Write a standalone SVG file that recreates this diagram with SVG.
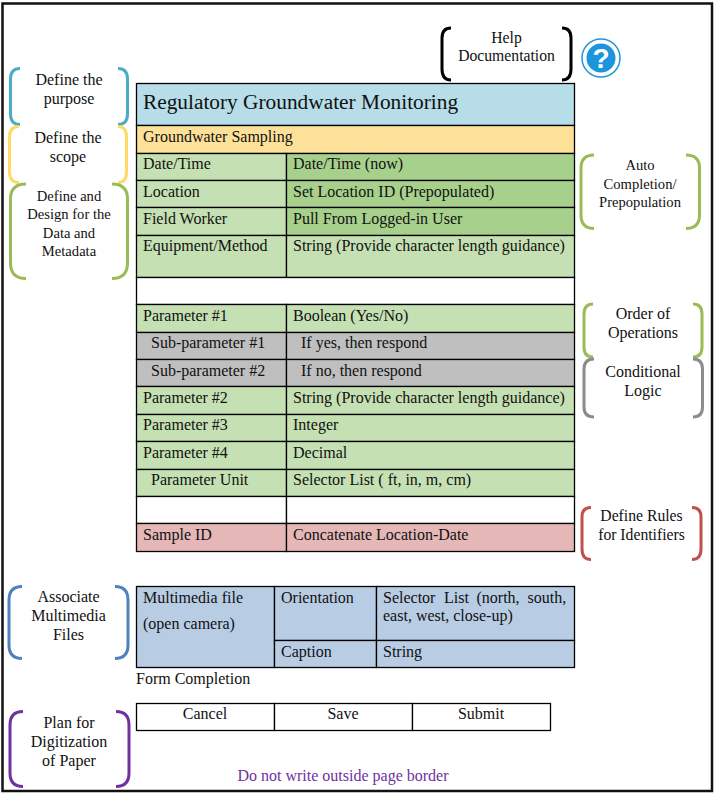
<svg xmlns="http://www.w3.org/2000/svg" width="716" height="795" viewBox="0 0 716 795">
<style>
text{font-family:"Liberation Serif","Times New Roman",serif;font-size:16px;fill:#111}
.c{text-anchor:middle}
.s{font-size:15.7px}
.xs{font-size:14.6px}
.cell{stroke:#000;stroke-width:1.3}
.b{fill:none;stroke-width:3;stroke-linecap:butt}
.lg{fill:#c5e0b3}.mg{fill:#a8d08d}.gy{fill:#bfbfbf}.rd{fill:#e5b8b7}.bl{fill:#b8cce4}.wh{fill:#fff}
</style>
<rect x="2.500" y="3.500" width="709.500" height="787.500" fill="#fff" stroke="#111" stroke-width="2.500"/>
<g id="form-table">
<rect class="cell" x="136.500" y="83.500" width="438" height="42" fill="#b7dde8"/>
<rect class="cell" x="136.500" y="125.500" width="438" height="28" fill="#fee198"/>
<rect class="cell lg" x="136.500" y="153.500" width="150" height="27"/><rect class="cell mg" x="286.500" y="153.500" width="288" height="27"/>
<rect class="cell lg" x="136.500" y="180.500" width="150" height="27"/><rect class="cell mg" x="286.500" y="180.500" width="288" height="27"/>
<rect class="cell lg" x="136.500" y="207.500" width="150" height="28"/><rect class="cell mg" x="286.500" y="207.500" width="288" height="28"/>
<rect class="cell lg" x="136.500" y="235.500" width="150" height="42"/><rect class="cell lg" x="286.500" y="235.500" width="288" height="42"/>
<rect class="cell wh" x="136.500" y="277.500" width="438" height="27"/>
<rect class="cell lg" x="136.500" y="304.500" width="150" height="28"/><rect class="cell lg" x="286.500" y="304.500" width="288" height="28"/>
<rect class="cell gy" x="136.500" y="332.500" width="150" height="27"/><rect class="cell gy" x="286.500" y="332.500" width="288" height="27"/>
<rect class="cell gy" x="136.500" y="359.500" width="150" height="27"/><rect class="cell gy" x="286.500" y="359.500" width="288" height="27"/>
<rect class="cell lg" x="136.500" y="386.500" width="150" height="28"/><rect class="cell lg" x="286.500" y="386.500" width="288" height="28"/>
<rect class="cell lg" x="136.500" y="414.500" width="150" height="27"/><rect class="cell lg" x="286.500" y="414.500" width="288" height="27"/>
<rect class="cell lg" x="136.500" y="441.500" width="150" height="28"/><rect class="cell lg" x="286.500" y="441.500" width="288" height="28"/>
<rect class="cell lg" x="136.500" y="469.500" width="150" height="27"/><rect class="cell lg" x="286.500" y="469.500" width="288" height="27"/>
<rect class="cell wh" x="136.500" y="496.500" width="150" height="27"/><rect class="cell wh" x="286.500" y="496.500" width="288" height="27"/>
<rect class="cell rd" x="136.500" y="523.500" width="150" height="28"/><rect class="cell rd" x="286.500" y="523.500" width="288" height="28"/>
<text x="143" y="109" style="font-size:21.330px">Regulatory Groundwater Monitoring</text>
<text x="143" y="142">Groundwater Sampling</text>
<text x="143" y="169">Date/Time</text><text x="293" y="169">Date/Time (now)</text>
<text x="143" y="197">Location</text><text x="293" y="197">Set Location ID (Prepopulated)</text>
<text x="143" y="224">Field Worker</text><text x="293" y="224">Pull From Logged-in User</text>
<text x="143" y="251">Equipment/Method</text><text x="293" y="251">String (Provide character length guidance)</text>
<text x="143" y="321">Parameter #1</text><text x="293" y="321">Boolean (Yes/No)</text>
<text x="151" y="348">Sub-parameter #1</text><text x="301" y="348">If yes, then respond</text>
<text x="151" y="376">Sub-parameter #2</text><text x="301" y="376">If no, then respond</text>
<text x="143" y="403">Parameter #2</text><text x="293" y="403">String (Provide character length guidance)</text>
<text x="143" y="430">Parameter #3</text><text x="293" y="430">Integer</text>
<text x="143" y="458">Parameter #4</text><text x="293" y="458">Decimal</text>
<text x="151" y="485">Parameter Unit</text><text x="293" y="485">Selector List ( ft, in, m, cm)</text>
<text x="143" y="540">Sample ID</text><text x="293" y="540">Concatenate Location-Date</text>
</g>
<g id="media-table">
<rect class="cell bl" x="136.500" y="586.500" width="138" height="81"/>
<rect class="cell bl" x="274.500" y="586.500" width="102" height="54"/>
<rect class="cell bl" x="376.500" y="586.500" width="198" height="54"/>
<rect class="cell bl" x="274.500" y="640.500" width="102" height="27"/>
<rect class="cell bl" x="376.500" y="640.500" width="198" height="27"/>
<text x="143" y="603">Multimedia file</text>
<text x="143" y="629">(open camera)</text>
<text x="281" y="603">Orientation</text>
<text x="383" y="603" word-spacing="0.500">Selector <tspan x="444">List</tspan> <tspan x="476.500">(north,</tspan> <tspan x="527.500">south,</tspan></text>
<text x="383" y="621">east, west, close-up)</text>
<text x="281" y="657">Caption</text>
<text x="383" y="657">String</text>
<text x="136" y="684">Form Completion</text>
</g>
<g id="buttons">
<rect class="cell wh" x="136.500" y="703.500" width="138" height="27"/>
<rect class="cell wh" x="274.500" y="703.500" width="138" height="27"/>
<rect class="cell wh" x="412.500" y="703.500" width="138" height="27"/>
<text class="c" x="205" y="719">Cancel</text>
<text class="c" x="343" y="719">Save</text>
<text class="c" x="481" y="719">Submit</text>
</g>
<text class="c" x="343" y="781" style="fill:#7030a0">Do not write outside page border</text>
<g id="connectors">
<path class="b" stroke="#4bacc6" d="M20 68.500Q10.500 68.500 10.500 79V114Q10.500 124.500 20 124.500M118 68.500Q127.500 68.500 127.500 79V114Q127.500 124.500 118 124.500"/>
<path class="b" stroke="#ffd966" d="M19 126.500Q9.500 126.500 9.500 137V172Q9.500 182.500 19 182.500M118 126.500Q126.500 126.500 126.500 137V172Q126.500 182.500 118 182.500"/>
<path class="b" stroke="#9bbb59" d="M26 184Q10.500 184 10.500 199V263Q10.500 278.500 26 278.500M112 184Q127.500 184 127.500 199V263Q127.500 278.500 112 278.500"/>
<path class="b" stroke="#000" d="M451 28Q442 28 442 38V69Q442 80 451 80M562 28Q571 28 571 38V69Q571 80 562 80"/>
<path class="b" stroke="#9bbb59" d="M594 155Q581 155 581 168V215Q581 228.500 594 228.500M686 155Q699.500 155 699.500 168V215Q699.500 228.500 686 228.500"/>
<path class="b" stroke="#9bbb59" d="M593 304Q584 304 584 314V347Q584 357 593 357M693 304Q702 304 702 314V347Q702 357 693 357"/>
<path class="b" stroke="#8c8c8c" d="M594 359Q584 359 584 369V407Q584 417 594 417M693 359Q702.500 359 702.500 369V407Q702.500 417 693 417"/>
<path class="b" stroke="#c0504d" d="M591 507.500Q582 507.500 582 517V549Q582 559.500 591 559.500M692 507.500Q701 507.500 701 517V549Q701 559.500 692 559.500"/>
<path class="b" stroke="#4f81bd" d="M22 586.500Q9 586.500 9 600V645Q9 658.500 22 658.500M115 586.500Q128 586.500 128 600V645Q128 658.500 115 658.500"/>
<path class="b" stroke="#7030a0" d="M23 711.500Q10 711.500 10 725V773Q10 786.500 23 786.500M116 711.500Q129 711.500 129 725V773Q129 786.500 116 786.500"/>
</g>
<g id="label-purpose"><text class="c" x="69" y="84.500">Define the</text><text class="c" x="69" y="104">purpose</text></g>
<g id="label-scope"><text class="c" x="68" y="143">Define the</text><text class="c" x="68" y="162">scope</text></g>
<g id="label-data"><text class="c xs" x="69" y="201">Define and</text><text class="c xs" x="69" y="219">Design for the</text><text class="c xs" x="69" y="238">Data and</text><text class="c xs" x="69" y="256">Metadata</text></g>
<g id="label-help"><text class="c s" x="506.500" y="42.500">Help</text><text class="c s" x="506.500" y="61">Documentation</text></g>
<g id="help-icon">
<circle cx="601" cy="58" r="19" fill="#fff" stroke="#1c95dc" stroke-width="1.500"/>
<circle cx="601" cy="58" r="14.500" fill="#1c95dc"/>
<text class="c" x="601" y="68" style="font-family:'Liberation Sans',sans-serif;font-size:28px;font-weight:bold;fill:#fff">?</text>
</g>
<g id="label-auto"><text class="c xs" x="640" y="170">Auto</text><text class="c xs" x="640" y="189">Completion/</text><text class="c xs" x="640" y="207">Prepopulation</text></g>
<g id="label-order"><text class="c" x="643" y="319">Order of</text><text class="c" x="643" y="338">Operations</text></g>
<g id="label-conditional"><text class="c" x="643" y="376.500">Conditional</text><text class="c" x="643" y="396">Logic</text></g>
<g id="label-rules"><text class="c s" x="641.500" y="521">Define Rules</text><text class="c s" x="641.500" y="540">for Identifiers</text></g>
<g id="label-media"><text class="c" x="68.500" y="602">Associate</text><text class="c" x="68.500" y="621">Multimedia</text><text class="c" x="68.500" y="640">Files</text></g>
<g id="label-plan"><text class="c" x="69" y="728">Plan for</text><text class="c" x="69" y="747">Digitization</text><text class="c" x="69" y="766">of Paper</text></g>
</svg>
